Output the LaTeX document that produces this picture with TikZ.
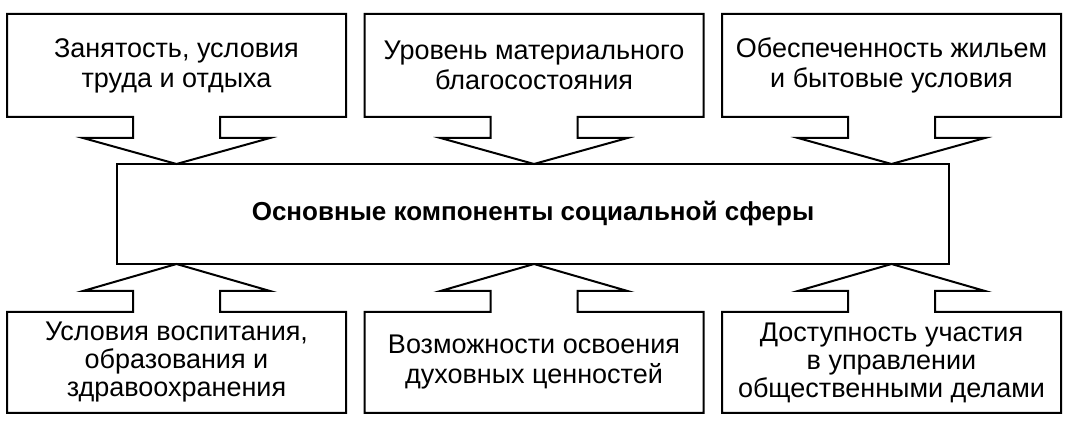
\documentclass[tikz,border=0pt]{standalone}
\usepackage{fontspec}
\setmainfont{Liberation Sans}
\begin{document}
\begin{tikzpicture}[x=1pt,y=1pt,line width=2pt,line join=miter,
  txtbox/.style={minimum width=337pt,minimum height=101pt,inner sep=0pt,align=center,
    font=\fontsize{27}{30}\selectfont},
  hub/.style={minimum width=830pt,minimum height=98pt,inner sep=0pt,
    font=\bfseries\fontsize{26}{30}\selectfont}]
\useasboundingbox (0,0) rectangle (1080,430);
\node[hub] (c) at (533,216) {Основные компоненты социальной сферы};
\draw (c.south west) rectangle (c.north east);
\node[txtbox] (t1) at (176.5,364.5) {Занятость, условия\\труда и отдыха};
\node[txtbox] (t2) at (534,364.5) {Уровень материального\\благосостояния};
\node[txtbox] (t3) at (891.5,364.5) {Обеспеченность жильем\\и бытовые условия};
\node[txtbox,minimum height=99pt,font=\fontsize{27}{28}\selectfont] (b1) at (176.5,67.5) {Условия воспитания,\\образования и\\здравоохранения};
\node[txtbox,minimum height=99pt] (b2) at (534,67.5) {Возможности освоения\\духовных ценностей};
\node[txtbox,minimum height=99pt,font=\fontsize{27}{28}\selectfont] (b3) at (891.5,67.5) {Доступность участия\\в управлении\\общественными делами};
\foreach \n in {t1,t2,t3}{
  \draw (\n.south west) -- (\n.north west) -- (\n.north east) -- (\n.south east)
    -- ([xshift=43.5pt]\n.south) -- ++(0,-21) -- ++(50,0) -- (\n.south |- c.north)
    -- ([xshift=-93.5pt,yshift=-21pt]\n.south) -- ++(50,0) -- ([xshift=-43.5pt]\n.south) -- cycle;
}
\foreach \n in {b1,b2,b3}{
  \draw (\n.north west) -- (\n.south west) -- (\n.south east) -- (\n.north east)
    -- ([xshift=43.5pt]\n.north) -- ++(0,21) -- ++(50,0) -- (\n.north |- c.south)
    -- ([xshift=-93.5pt,yshift=21pt]\n.north) -- ++(50,0) -- ([xshift=-43.5pt]\n.north) -- cycle;
}
\end{tikzpicture}
\end{document}
